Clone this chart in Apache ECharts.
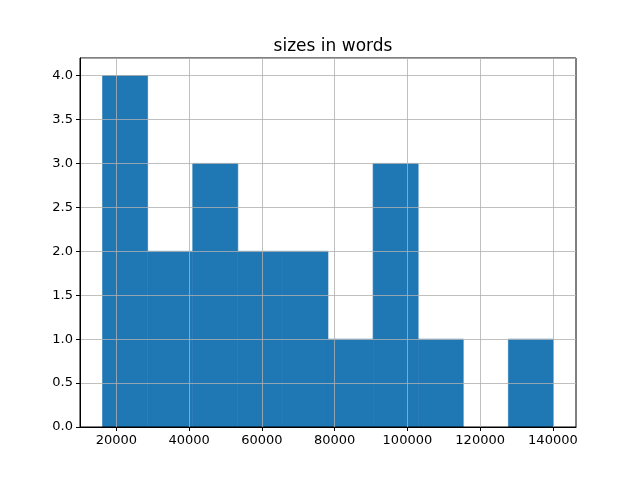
<!DOCTYPE html>
<html>
<head>
<meta charset="utf-8">
<script src="https://cdn.jsdelivr.net/npm/echarts@6/dist/echarts.min.js"></script>
<style>
  html, body { margin: 0; padding: 0; background: #fff; }
  #chart { width: 640px; height: 480px; }
</style>
</head>
<body>
<div id="chart"></div>
<script>
// histogram bins (edges in words) and counts
var binEdges = [16200, 28595, 40990, 53385, 65780, 78175, 90570, 102965, 115360, 127755, 140150];
var counts = [4, 2, 3, 2, 2, 1, 3, 1, 0, 1];
var xTicks = [20000, 40000, 60000, 80000, 100000, 120000, 140000];
var titleText = 'sizes in words';

var barData = [];
for (var i = 0; i < counts.length; i++) {
    barData.push([binEdges[i], binEdges[i + 1], counts[i]]);
}

var myChart = echarts.init(document.getElementById('chart'));
myChart.setOption({
    animation: false,
    backgroundColor: '#fff',
    textStyle: { fontFamily: 'DejaVu Sans' },
    title: {
        text: titleText,
        left: 328,
        top: 33,
        textAlign: 'center',
        textStyle: { fontFamily: 'DejaVu Sans', fontSize: 17, fontWeight: 'normal', color: '#000' }
    },
    grid: {
        left: 80,
        right: 64,
        top: 58,
        bottom: 53,
        show: true,
        borderColor: '#000',
        borderWidth: 1,
        backgroundColor: 'transparent'
    },
    xAxis: {
        type: 'value',
        min: 10003,
        max: 146347,
        axisLine: { show: true, lineStyle: { color: '#000', width: 1 } },
        axisTick: { show: true, length: 4, customValues: xTicks, lineStyle: { color: '#000' } },
        axisLabel: {
            color: '#000',
            fontSize: 13,
            margin: 7,
            customValues: xTicks,
            formatter: function (v) { return String(v); }
        },
        splitLine: { show: true, lineStyle: { color: '#b0b0b0', width: 0.8 } }
    },
    yAxis: {
        type: 'value',
        min: 0,
        max: 4.2,
        interval: 0.5,
        axisLine: { show: true, lineStyle: { color: '#000', width: 1 } },
        axisTick: { show: true, length: 4, lineStyle: { color: '#000' } },
        axisLabel: {
            color: '#000',
            fontSize: 13,
            margin: 7,
            showMaxLabel: false,
            formatter: function (v) { return v.toFixed(1); }
        },
        splitLine: { show: true, lineStyle: { color: '#b0b0b0', width: 0.8 } }
    },
    series: [{
        type: 'custom',
        z: -1,
        data: barData,
        renderItem: function (params, api) {
            if (api.value(2) <= 0) return null;  // empty bin, nothing to draw
            var p0 = api.coord([api.value(0), api.value(2)]);
            var p1 = api.coord([api.value(1), 0]);
            return {
                type: 'rect',
                shape: { x: p0[0], y: p0[1], width: p1[0] - p0[0], height: p1[1] - p0[1] },
                style: { fill: '#1f77b4', stroke: '#1f77b4', lineWidth: 0.6 }
            };
        }
    }]
});
</script>
</body>
</html>
